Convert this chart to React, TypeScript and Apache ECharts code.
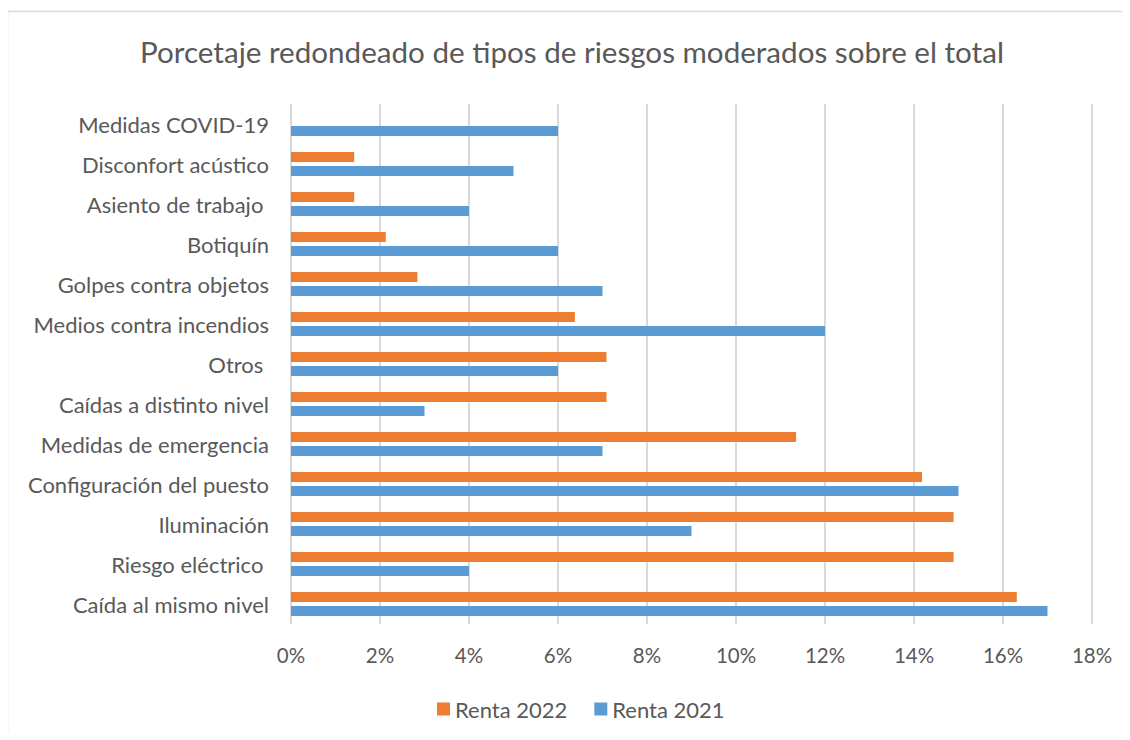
import React, { useEffect, useRef } from "react";
import * as echarts from "echarts";

const categories = [
  "Caída al mismo nivel",
  "Riesgo eléctrico ",
  "Iluminación",
  "Configuración del puesto",
  "Medidas de emergencia",
  "Caídas a distinto nivel",
  "Otros ",
  "Medios contra incendios",
  "Golpes contra objetos",
  "Botiquín",
  "Asiento de trabajo ",
  "Disconfort acústico",
  "Medidas COVID-19",
];

const renta2022 = [16.31, 14.89, 14.89, 14.18, 11.35, 7.09, 7.09, 6.38, 2.84, 2.13, 1.42, 1.42, 0];
const renta2021 = [17, 4, 9, 15, 7, 3, 6, 12, 7, 6, 4, 5, 6];

const xTicks = { min: 0, max: 18, interval: 2 };

const FONT = "Lato";
const TXT = "#595959";

export default function App() {
  const ref = useRef<HTMLDivElement>(null);
  useEffect(() => {
    if (!ref.current) return;
    const chart = echarts.init(ref.current, null, { renderer: "svg" });
    chart.setOption({
      animation: false,
      backgroundColor: "#ffffff",
      title: {
        text: "Porcetaje redondeado de tipos de riesgos moderados sobre el total",
        left: 135,
        top: 31,
        textStyle: { fontFamily: FONT, fontSize: 29.6, fontWeight: "normal", color: TXT },
      },
      graphic: [
        {
          type: "rect",
          shape: { x: 7.5, y: 11.5, width: 1300, height: 900 },
          style: { fill: "none", stroke: "#D9D9D9", lineWidth: 1.5 },
          silent: true,
        },
      ],
      legend: {
        data: ["Renta 2022", "Renta 2021"],
        top: 693,
        left: 432,
        itemWidth: 13,
        itemHeight: 13,
        itemGap: 27,
        icon: "rect",
        textStyle: { fontFamily: FONT, fontSize: 22, color: TXT },
      },
      grid: { left: 291, right: 38, top: 104, bottom: 116, containLabel: false },
      xAxis: {
        type: "value",
        min: xTicks.min,
        max: xTicks.max,
        interval: xTicks.interval,
        axisLine: { show: false },
        axisTick: { show: false },
        splitLine: { show: true, lineStyle: { color: "#D9D9D9", width: 2 } },
        axisLabel: {
          formatter: (v: number) => `${v}%`,
          fontFamily: FONT,
          fontSize: 20.5,
          color: TXT,
          margin: 20,
        },
      },
      yAxis: {
        type: "category",
        data: categories,
        axisLine: { show: false },
        axisTick: { show: false },
        splitLine: { show: false },
        axisLabel: { fontFamily: FONT, fontSize: 22, color: TXT, margin: 22 },
      },
      series: [
        {
          name: "Renta 2022",
          type: "bar",
          data: renta2022,
          barWidth: 10,
          barGap: "40%",
          itemStyle: { color: "#ED7D31" },
        },
        {
          name: "Renta 2021",
          type: "bar",
          data: renta2021,
          barWidth: 10,
          barGap: "40%",
          itemStyle: { color: "#5B9BD5" },
        },
      ],
    });
    return () => chart.dispose();
  }, []);
  return <div ref={ref} style={{ width: 1130, height: 740, margin: -8 }} />;
}
